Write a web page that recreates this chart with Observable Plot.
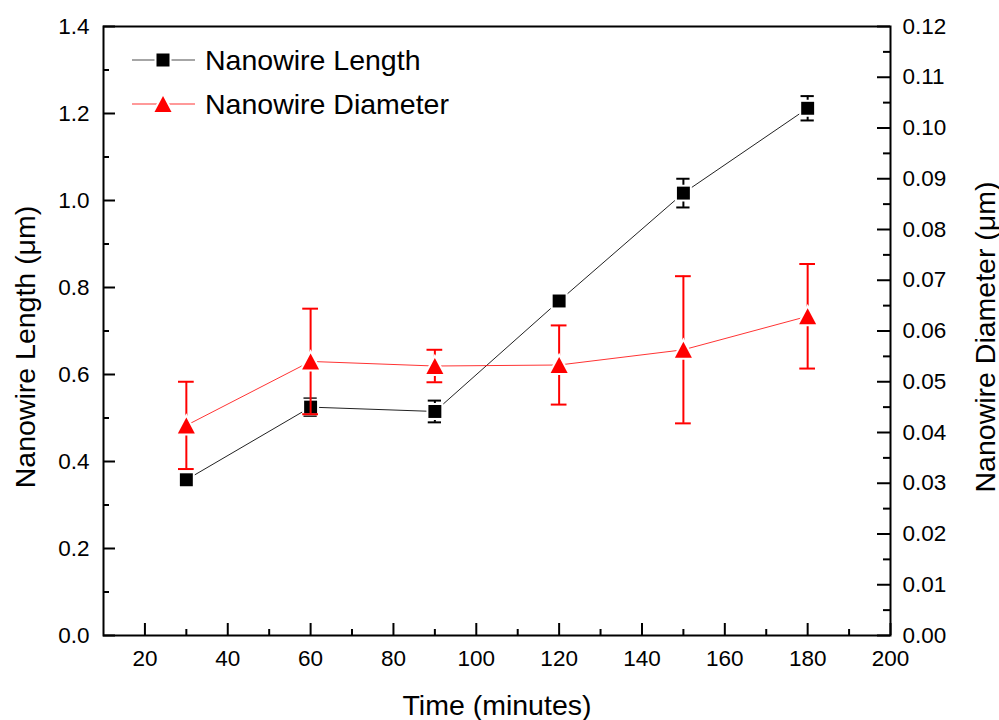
<!DOCTYPE html>
<html><head><meta charset="utf-8">
<script src="https://cdn.jsdelivr.net/npm/d3@7"></script>
<script src="https://cdn.jsdelivr.net/npm/@observablehq/plot@0.6"></script>
<style>
html,body{margin:0;padding:0;background:#fff;}
#chart{width:999px;height:720px;}
</style></head><body><div id="chart"></div>
<script>
// ---- data ----
const time = [30, 60, 90, 120, 150, 180];
const lengthMean = [0.358, 0.525, 0.515, 0.769, 1.017, 1.212];
const lengthErr = [0.010, 0.020, 0.025, 0.010, 0.033, 0.028];
const diameterMean = [0.0414, 0.0540, 0.0531, 0.0533, 0.0563, 0.0629];
const diameterErr = [0.0086, 0.0104, 0.0032, 0.0078, 0.0145, 0.0103];

const xMajorTicks = [20, 40, 60, 80, 100, 120, 140, 160, 180, 200];
const xMinorTicks = [30, 50, 70, 90, 110, 130, 150, 170, 190];
const leftMajorTicks = [0, 0.2, 0.4, 0.6, 0.8, 1.0, 1.2, 1.4];
const leftMinorTicks = [0.1, 0.3, 0.5, 0.7, 0.9, 1.1, 1.3];
const rightMajorTicks = [0, 0.01, 0.02, 0.03, 0.04, 0.05, 0.06, 0.07, 0.08, 0.09, 0.10, 0.11, 0.12];
const rightMinorTicks = [0.005, 0.015, 0.025, 0.035, 0.045, 0.055, 0.065, 0.075, 0.085, 0.095, 0.105, 0.115];

const seriesNames = ["Nanowire Length", "Nanowire Diameter"];
const xTitle = "Time (minutes)";
const yLeftTitle = "Nanowire Length (\u03bcm)";
const yRightTitle = "Nanowire Diameter (\u03bcm)";

// ---- layout ----
const W = 999, H = 720;
const mL = 103, mR = 109, mT = 26, mB = 85;
const innerW = W - mL - mR, innerH = H - mT - mB;
const k = 1.4 / 0.12; // right-axis to left-axis factor
const RED = "#ff0000";
const FONT = '"Liberation Sans", Arial, sans-serif';

const lengthData = time.map((t, i) => ({t, v: lengthMean[i], e: lengthErr[i]}));
const diameterData = time.map((t, i) => ({t, v: diameterMean[i] * k, e: diameterErr[i] * k}));

const triangle = {
  draw(ctx) {
    const w = 17, h = 16;
    ctx.moveTo(0, -h / 2);
    ctx.lineTo(w / 2, h / 2);
    ctx.lineTo(-w / 2, h / 2);
    ctx.closePath();
  }
};

const chart = Plot.plot({
  width: W, height: H,
  marginLeft: mL, marginRight: mR, marginTop: mT, marginBottom: mB,
  x: {domain: [10, 200]},
  y: {domain: [0, 1.4]},
  style: {fontFamily: FONT, background: "white", color: "black", overflow: "visible"},
  marks: [
    // inward ticks
    Plot.tickX(xMajorTicks, {x: d => d, insetTop: innerH - 12, stroke: "black", strokeWidth: 2}),
    Plot.tickX(xMinorTicks, {x: d => d, insetTop: innerH - 6, stroke: "black", strokeWidth: 2}),
    Plot.tickY(leftMajorTicks, {y: d => d, insetRight: innerW - 12, stroke: "black", strokeWidth: 2}),
    Plot.tickY(leftMinorTicks, {y: d => d, insetRight: innerW - 6, stroke: "black", strokeWidth: 2}),
    Plot.tickY(rightMajorTicks.map(v => v * k), {y: d => d, insetLeft: innerW - 13, stroke: "black", strokeWidth: 2}),
    Plot.tickY(rightMinorTicks.map(v => v * k), {y: d => d, insetLeft: innerW - 7, stroke: "black", strokeWidth: 2}),
    // axes labels
    Plot.axisX(xMajorTicks, {tickSize: 0, tickPadding: 15, fontSize: 22.5, tickFormat: d3.format("d"), label: null}),
    Plot.axisY(leftMajorTicks, {anchor: "left", tickSize: 0, tickPadding: 14, fontSize: 22.5, tickFormat: d3.format(".1f"), label: null}),
    Plot.axisY(rightMajorTicks.map(v => v * k), {anchor: "right", tickSize: 0, tickPadding: 12, fontSize: 22.5,
      tickFormat: v => d3.format(".2f")(v / k), label: null}),
    // titles
    Plot.text([xTitle], {frameAnchor: "bottom", lineAnchor: "middle", textAnchor: "middle", dy: 70, text: d => d, fontSize: 28.5}),
    Plot.text([yLeftTitle], {frameAnchor: "left", lineAnchor: "middle", textAnchor: "middle", rotate: -90, dx: -78, dy: 16, text: d => d, fontSize: 28.5}),
    Plot.text([yRightTitle], {frameAnchor: "right", lineAnchor: "middle", textAnchor: "middle", rotate: -90, dx: 95, dy: 6, text: d => d, fontSize: 28.5}),
    // length series
    Plot.line(lengthData, {x: "t", y: "v", stroke: "#222", strokeWidth: 1}),
    Plot.ruleX(lengthData, {x: "t", y1: d => d.v - d.e, y2: d => d.v + d.e, stroke: "black", strokeWidth: 2}),
    Plot.ruleY(lengthData, {y: d => d.v - d.e, x1: d => d.t - 1.6, x2: d => d.t + 1.6, stroke: "black", strokeWidth: 2}),
    Plot.ruleY(lengthData, {y: d => d.v + d.e, x1: d => d.t - 1.6, x2: d => d.t + 1.6, stroke: "black", strokeWidth: 2}),
    Plot.dot(lengthData, {x: "t", y: "v", symbol: "square", r: 7.3, fill: "black", stroke: "white", strokeWidth: 4, paintOrder: "stroke"}),
    // diameter series
    Plot.line(diameterData, {x: "t", y: "v", stroke: RED, strokeWidth: 1, strokeOpacity: 0.8}),
    Plot.ruleX(diameterData, {x: "t", y1: d => d.v - d.e, y2: d => d.v + d.e, stroke: RED, strokeWidth: 2}),
    Plot.ruleY(diameterData, {y: d => d.v - d.e, x1: d => d.t - 1.9, x2: d => d.t + 1.9, stroke: RED, strokeWidth: 2}),
    Plot.ruleY(diameterData, {y: d => d.v + d.e, x1: d => d.t - 1.9, x2: d => d.t + 1.9, stroke: RED, strokeWidth: 2}),
    Plot.dot(diameterData, {x: "t", y: "v", symbol: triangle, fill: RED, stroke: "white", strokeWidth: 4, paintOrder: "stroke"}),
    Plot.frame({stroke: "black", strokeWidth: 2})
  ]
});
document.getElementById("chart").appendChild(chart);

// ---- legend (inside plot, top-left) ----
const svg = d3.select(chart);
const lg = svg.append("g").attr("font-family", FONT).attr("text-anchor", "start");
const rows = [
  {name: seriesNames[0], color: "black", lineColor: "#222", y: 60, shape: "square"},
  {name: seriesNames[1], color: RED, lineColor: RED, y: 104, shape: "triangle"}
];
rows.forEach(r => {
  lg.append("line").attr("x1", 132).attr("x2", 195).attr("y1", r.y).attr("y2", r.y)
    .attr("stroke", r.lineColor).attr("stroke-width", 1).attr("stroke-opacity", 0.8);
  if (r.shape === "square") {
    lg.append("rect").attr("x", 163 - 6.5).attr("y", r.y - 6.5).attr("width", 13).attr("height", 13)
      .attr("fill", r.color).attr("stroke", "white").attr("stroke-width", 4).attr("paint-order", "stroke");
  } else {
    lg.append("path").attr("d", `M163,${r.y - 8}L171.5,${r.y + 8}L154.5,${r.y + 8}Z`)
      .attr("fill", r.color).attr("stroke", "white").attr("stroke-width", 4).attr("paint-order", "stroke");
  }
  lg.append("text").attr("x", 205).attr("y", r.y).attr("dy", "0.35em").attr("font-size", 28.5)
    .attr("text-anchor", "start").attr("fill", "black").text(r.name);
});
</script>
</body></html>
